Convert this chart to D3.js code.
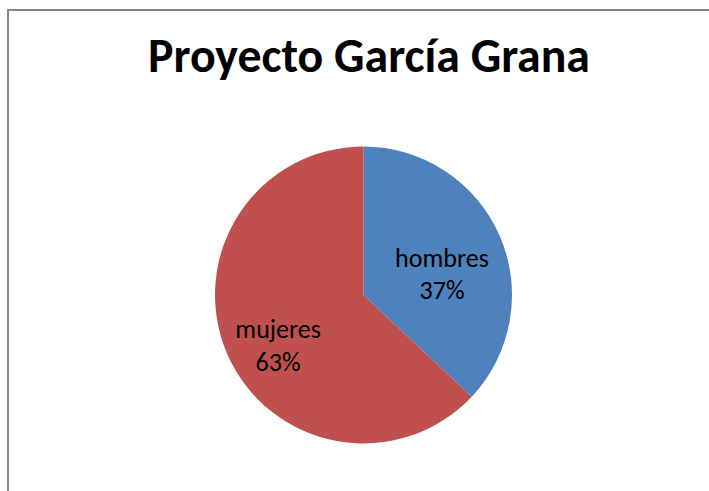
<!DOCTYPE html>
<html>
<head>
<meta charset="utf-8">
<script src="https://cdn.jsdelivr.net/npm/d3@7"></script>
<style>
  html, body { margin: 0; background: #fff; overflow: hidden; }
  svg { display: block; }
  text { font-family: Carlito, Lato, "Open Sans", sans-serif; fill: #000; }
</style>
</head>
<body>
<div id="chart-area"></div>
<script>
// Data
var categories = ["hombres", "mujeres"];
var values = [37, 63];
var colors = ["#4F81BD", "#C0504D"];
var titleText = "Proyecto García Grana";

// Label placement inside slices (angle in degrees from top, distance as share of radius)
var labelAngle = [81.3, 235.2];
var labelDist = [0.535, 0.70];

var width = 709, height = 491;
var cx = 363.5, cy = 295, radius = 148.5;

var svg = d3.select("#chart-area").append("svg")
    .attr("width", width)
    .attr("height", height);

// Chart border: only top and left edges fall inside the picture
svg.append("path")
    .attr("d", "M8," + height + "V10H" + width)
    .attr("fill", "none")
    .attr("stroke", "#868686")
    .attr("stroke-width", 2);

// Title
var title = svg.append("text")
    .attr("x", 369)
    .attr("y", 72)
    .attr("text-anchor", "middle")
    .attr("font-weight", "bold")
    .attr("font-size", "40px")
    .text(titleText);
var tw = title.node().getComputedTextLength();
title.attr("font-size", (40 * 442 / tw) + "px");

// Pie
var pie = d3.pie().sort(null).value(function(d) { return d; });
var arc = d3.arc().innerRadius(0).outerRadius(radius);
var total = d3.sum(values);

var g = svg.append("g")
    .attr("transform", "translate(" + cx + "," + cy + ")");

g.selectAll("path")
    .data(pie(values))
    .enter()
    .append("path")
      .attr("d", arc)
      .attr("fill", function(d, i) { return colors[i]; });

// Labels
var labels = g.selectAll("g.label")
    .data(pie(values))
    .enter()
    .append("g")
      .attr("class", "label")
      .attr("transform", function(d, i) {
        var a = labelAngle[i] * Math.PI / 180;
        var r = labelDist[i] * radius;
        return "translate(" + (Math.sin(a) * r) + "," + (-Math.cos(a) * r) + ")";
      });

labels.append("text")
    .attr("class", "cat")
    .attr("text-anchor", "middle")
    .attr("y", -16)
    .attr("font-size", "26px")
    .text(function(d, i) { return categories[i]; });

labels.append("text")
    .attr("class", "pct")
    .attr("text-anchor", "middle")
    .attr("y", 16.5)
    .attr("font-size", "26px")
    .text(function(d) { return Math.round(d.value / total * 100) + "%"; });

// fit label size so "hombres" is about 94px wide
var hw = labels.select("text.cat").node().getComputedTextLength();
labels.selectAll("text").attr("font-size", (26 * 94 / hw) + "px");
</script>
</body>
</html>
